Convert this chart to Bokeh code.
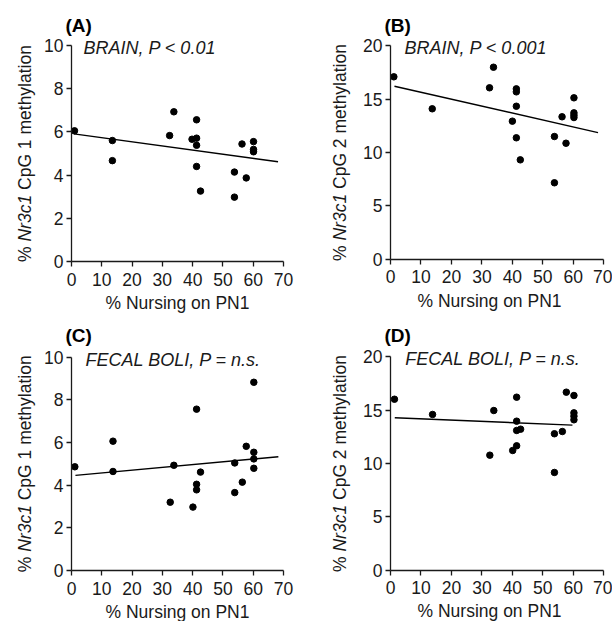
import math
from bokeh.plotting import figure
from bokeh.layouts import gridplot
from bokeh.models import Range1d, Label
from bokeh.embed import file_html
from bokeh.resources import INLINE

# ---------------- data ----------------
x_ticks = [0, 10, 20, 30, 40, 50, 60, 70]
y_ticks_cpg1 = [0, 2, 4, 6, 8, 10]
y_ticks_cpg2 = [0, 5, 10, 15, 20]
x_title = "% Nursing on PN1"

# (A) Brain, CpG 1
brain_cpg1_x = [1.0, 13.5, 13.5, 32.4, 33.8, 39.8, 41.3, 41.3, 41.3, 41.3, 42.6, 53.8, 53.8, 56.3, 57.7, 60.1, 60.1, 60.1]
brain_cpg1_y = [6.05, 5.60, 4.67, 5.83, 6.93, 5.66, 5.71, 6.56, 5.38, 4.40, 3.26, 4.14, 2.98, 5.44, 3.87, 5.55, 5.19, 5.08]
brain_cpg1_fit_x = [0.8, 68.2]
brain_cpg1_fit_y = [5.91, 4.62]

# (B) Brain, CpG 2
brain_cpg2_x = [1.1, 13.7, 32.5, 33.8, 40.0, 41.3, 41.3, 41.3, 41.3, 42.6, 53.8, 53.8, 56.3, 57.6, 60.2, 60.2, 60.2, 60.2]
brain_cpg2_y = [17.1, 14.1, 16.07, 18.0, 12.94, 15.97, 15.69, 14.34, 11.38, 9.31, 11.5, 7.16, 13.35, 10.87, 15.13, 13.72, 13.5, 13.28]
brain_cpg2_fit_x = [1.3, 68.1]
brain_cpg2_fit_y = [16.22, 11.87]

# (C) Fecal boli, CpG 1
fecal_cpg1_x = [1.1, 13.7, 13.7, 32.6, 33.8, 40.1, 41.3, 41.3, 41.3, 42.6, 53.9, 53.9, 56.4, 57.7, 60.2, 60.2, 60.2, 60.2]
fecal_cpg1_y = [4.86, 6.06, 4.64, 3.20, 4.93, 2.97, 7.56, 4.04, 3.78, 4.61, 5.04, 3.65, 4.14, 5.82, 8.82, 5.54, 5.23, 4.79]
fecal_cpg1_fit_x = [1.3, 68.3]
fecal_cpg1_fit_y = [4.46, 5.33]

# (D) Fecal boli, CpG 2
fecal_cpg2_x = [1.3, 13.8, 32.6, 33.9, 40.1, 41.4, 41.4, 41.4, 41.4, 42.7, 53.8, 53.8, 56.4, 57.7, 60.2, 60.2, 60.2, 60.2]
fecal_cpg2_y = [16.03, 14.6, 10.78, 14.97, 11.22, 16.22, 13.97, 13.1, 11.66, 13.22, 12.79, 9.16, 13.0, 16.69, 16.38, 14.75, 14.44, 14.1]
fecal_cpg2_fit_x = [1.4, 59.7]
fecal_cpg2_fit_y = [14.29, 13.6]

# ---------------- styling ----------------
FONT = "Liberation Sans"
INK = "#1a1a1a"
TICK_FS = 17.5
TITLE_FS = 17.5
NOTE_FS = 18
LETTER_FS = 19

# canvas sizes of the two columns / rows
COL_W = [300, 312]
ROW_H = [315, 306]


def make_panel(letter, note, cpg_num, xs, ys, fx, fy, ymax, yticks,
               fig_w, fig_h, ax_x0, ax_y0, px_x70, px_ytop,
               ylab_dx, xlab_dy, xlab_cx, note_dx, letter_dy):
    # pixel geometry (relative to this canvas) -> data ranges so the frame fills the canvas
    ppx = (px_x70 - ax_x0) / 70.0
    ppy = (ax_y0 - px_ytop) / ymax
    x_start = -ax_x0 / ppx
    x_end = (fig_w - ax_x0) / ppx
    y_end = ymax + px_ytop / ppy
    y_start = -(fig_h - ax_y0) / ppy

    p = figure(width=fig_w, height=fig_h, output_backend="svg",
               toolbar_location=None,
               x_range=Range1d(x_start, x_end), y_range=Range1d(y_start, y_end),
               min_border=0)
    p.grid.visible = False
    p.outline_line_color = None
    p.background_fill_color = "white"
    p.border_fill_color = "white"
    p.xaxis.ticker = x_ticks
    p.yaxis.ticker = yticks
    p.xaxis.fixed_location = 0
    p.yaxis.fixed_location = 0
    p.xaxis.bounds = (0, 70)
    p.yaxis.bounds = (0, ymax)
    for ax in (p.xaxis[0], p.yaxis[0]):
        ax.axis_line_color = INK
        ax.axis_line_width = 1.3
        ax.major_tick_line_color = INK
        ax.major_tick_line_width = 1.3
        ax.major_tick_in = 0
        ax.major_tick_out = 5
        ax.minor_tick_line_color = None
        ax.major_label_text_font = FONT
        ax.major_label_text_font_size = f"{TICK_FS}px"
        ax.major_label_text_color = INK
    p.yaxis.major_label_standoff = 3
    p.xaxis.major_label_standoff = 6

    p.line(fx, fy, line_color="black", line_width=1.4)
    p.scatter(xs, ys, size=6.5, fill_color="black", line_color="black")

    # panel letter
    p.add_layout(Label(x=0, y=ymax, x_offset=-6, y_offset=letter_dy, text=letter,
                       text_font=FONT, text_font_style="bold",
                       text_font_size=f"{LETTER_FS}px", text_color="black",
                       text_align="left", text_baseline="middle"))
    # note
    p.add_layout(Label(x=0, y=ymax, x_offset=note_dx, y_offset=-2.5, text=note,
                       text_font=FONT, text_font_style="italic",
                       text_font_size=f"{NOTE_FS}px", text_color=INK,
                       text_align="left", text_baseline="middle"))
    # x axis title
    p.add_layout(Label(x=xlab_cx, y=0, y_offset=-xlab_dy, text=x_title,
                       text_font=FONT, text_font_size=f"{TITLE_FS}px", text_color=INK,
                       text_align="center", text_baseline="middle"))
    # y axis title with italic gene name (Arial metrics in em)
    w_pct = 1.167 * TITLE_FS
    w_gene = 2.667 * TITLE_FS
    w_sp = 0.278 * TITLE_FS
    w_rest = 8.281 * TITLE_FS
    total = w_pct + w_gene + w_sp + w_rest
    start = -total / 2
    segs = [("%", "normal", start),
            ("Nr3c1", "italic", start + w_pct),
            (f"CpG {cpg_num} methylation", "normal", start + w_pct + w_gene + w_sp)]
    for txt, style, off in segs:
        p.add_layout(Label(x=0, y=ymax / 2, x_offset=ylab_dx, y_offset=off,
                           text=txt, angle=math.pi / 2,
                           text_font=FONT, text_font_style=style,
                           text_font_size=f"{TITLE_FS}px", text_color=INK,
                           text_align="left", text_baseline="middle"))
    return p


pA = make_panel("(A)", "BRAIN, P < 0.01", 1, brain_cpg1_x, brain_cpg1_y,
                brain_cpg1_fit_x, brain_cpg1_fit_y, 10, y_ticks_cpg1,
                COL_W[0], ROW_H[0], 71, 261, 283, 45, -47, 41.5, 35, 12, 20)
pB = make_panel("(B)", "BRAIN, P < 0.001", 2, brain_cpg2_x, brain_cpg2_y,
                brain_cpg2_fit_x, brain_cpg2_fit_y, 20, y_ticks_cpg2,
                COL_W[1], ROW_H[0], 90, 258.6, 303.3, 45.4, -51, 41.5, 32.5, 14, 20)
pC = make_panel("(C)", "FECAL BOLI, P = n.s.", 1, fecal_cpg1_x, fecal_cpg1_y,
                fecal_cpg1_fit_x, fecal_cpg1_fit_y, 10, y_ticks_cpg1,
                COL_W[0], ROW_H[1], 71, 255, 283, 41.6, -47, 41, 35, 14, 21.5)
pD = make_panel("(D)", "FECAL BOLI, P = n.s.", 2, fecal_cpg2_x, fecal_cpg2_y,
                fecal_cpg2_fit_x, fecal_cpg2_fit_y, 20, y_ticks_cpg2,
                COL_W[1], ROW_H[1], 90, 254.6, 303.3, 41.4, -51, 41, 32.5, 14.7, 21.5)

grid = gridplot([[pA, pB], [pC, pD]], toolbar_location=None)

open("out.html", "w").write(file_html(grid, INLINE))
